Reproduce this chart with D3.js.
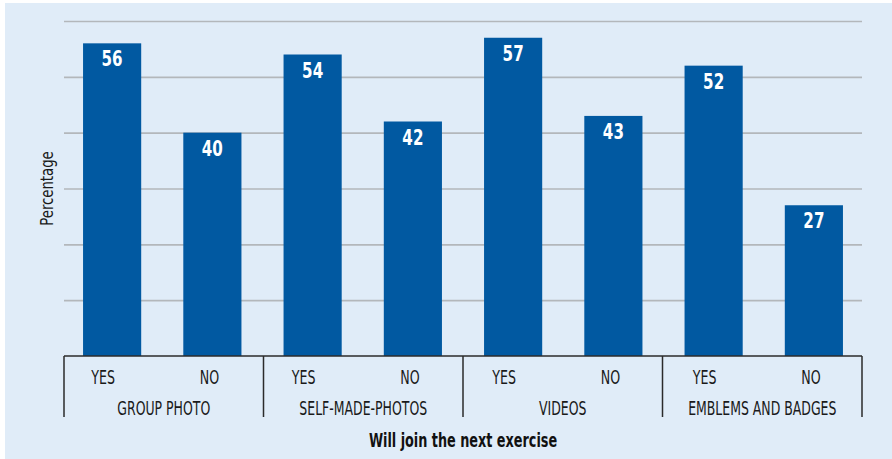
<!DOCTYPE html>
<html>
<head>
<meta charset="utf-8">
<script src="https://cdn.jsdelivr.net/npm/d3@7"></script>
<style>
  body { margin: 0; background: #fff; }
  svg text { font-family: "Liberation Sans Narrow", "DejaVu Sans Condensed", "Arial Narrow", sans-serif; }
</style>
</head>
<body>
<svg id="chart" width="892" height="459"></svg>
<script>
// data
let groups = ['GROUP PHOTO', 'SELF-MADE-PHOTOS', 'VIDEOS', 'EMBLEMS AND BADGES']
let answers = ['YES', 'NO']
let yesValues = [56, 54, 57, 52]
let noValues = [40, 42, 43, 27]
let yTicks = [0, 10, 20, 30, 40, 50, 60]

let bars = []
groups.forEach((g, i) => {
  bars.push({group: g, answer: 'YES', value: yesValues[i]})
  bars.push({group: g, answer: 'NO', value: noValues[i]})
})

// set the margins
let margin = {top: 21, right: 30, bottom: 103, left: 64},
    width = 892 - margin.left - margin.right,
    height = 459 - margin.top - margin.bottom

let svg = d3.select('svg#chart')

// light blue panel
svg.append('rect')
  .attr('x', 5)
  .attr('y', 3)
  .attr('width', 887)
  .attr('height', 456)
  .attr('fill', '#e0ecf8')

let g = svg.append('g')
  .attr('transform', `translate(${margin.left}, ${margin.top})`)

let xScale = d3.scaleBand()
  .domain(bars.map(d => d.group + '|' + d.answer))
  .range([0, width])
  .paddingInner(0.42)
  .paddingOuter(0.19)

let groupScale = d3.scaleBand()
  .domain(groups)
  .range([0, width])

let yScale = d3.scaleLinear()
  .domain([0, 60])
  .range([height, 0])

// grid lines
g.append('g')
  .call(d3.axisLeft(yScale).tickValues(yTicks.slice(1)).tickSize(-width).tickFormat(''))
  .call(ax => ax.select('.domain').remove())
  .selectAll('line')
  .attr('stroke', '#b3b7bb')
  .attr('stroke-width', 1.6)

// bars
g.selectAll('rect.bar')
  .data(bars)
  .enter()
  .append('rect')
  .attr('class', 'bar')
  .attr('x', d => xScale(d.group + '|' + d.answer))
  .attr('y', d => yScale(d.value))
  .attr('width', xScale.bandwidth())
  .attr('height', d => height - yScale(d.value))
  .attr('fill', '#0159a1')

// value labels
g.selectAll('text.value')
  .data(bars)
  .enter()
  .append('text')
  .attr('class', 'value')
  .attr('transform', d => {
    let cx = xScale(d.group + '|' + d.answer) + xScale.bandwidth() / 2
    return `translate(${cx}, ${yScale(d.value) + 23}) scale(0.8, 1)`
  })
  .attr('text-anchor', 'middle')
  .attr('fill', 'white')
  .attr('font-weight', 'bold')
  .attr('font-size', 21)
  .text(d => d.value)

// baseline and category boxes
g.append('line')
  .attr('x1', 0).attr('x2', width)
  .attr('y1', height).attr('y2', height)
  .attr('stroke', '#2b2b2b')
  .attr('stroke-width', 1.5)

let seps = groups.map(d => groupScale(d)).concat([width])
g.selectAll('line.sep')
  .data(seps)
  .enter()
  .append('line')
  .attr('class', 'sep')
  .attr('x1', d => d).attr('x2', d => d)
  .attr('y1', height).attr('y2', height + 61)
  .attr('stroke', '#2b2b2b')
  .attr('stroke-width', 1.5)

// YES / NO labels
g.selectAll('text.answer')
  .data(bars)
  .enter()
  .append('text')
  .attr('class', 'answer')
  .attr('transform', d => {
    let cx = xScale(d.group + '|' + d.answer) + xScale.bandwidth() / 2 - (d.answer === 'YES' ? 9 : 3)
    return `translate(${cx}, ${height + 28}) scale(0.74, 1)`
  })
  .attr('text-anchor', 'middle')
  .attr('font-size', 19)
  .attr('fill', '#1a1a1a')
  .text(d => d.answer)

// group labels
g.selectAll('text.group')
  .data(groups)
  .enter()
  .append('text')
  .attr('class', 'group')
  .attr('transform', d => `translate(${groupScale(d) + groupScale.bandwidth() / 2}, ${height + 59}) scale(0.73, 1)`)
  .attr('text-anchor', 'middle')
  .attr('font-size', 19)
  .attr('fill', '#1a1a1a')
  .text(d => d)

// axis titles
svg.append('text')
  .attr('transform', `translate(53, ${margin.top + height / 2}) rotate(-90) scale(0.82, 1)`)
  .attr('text-anchor', 'middle')
  .attr('font-size', 18)
  .attr('fill', '#1a1a1a')
  .text('Percentage')

svg.append('text')
  .attr('transform', `translate(${margin.left + width / 2}, 447) scale(0.75, 1)`)
  .attr('text-anchor', 'middle')
  .attr('font-size', 19)
  .attr('font-weight', 'bold')
  .attr('fill', '#111')
  .text('Will join the next exercise')
</script>
</body>
</html>
